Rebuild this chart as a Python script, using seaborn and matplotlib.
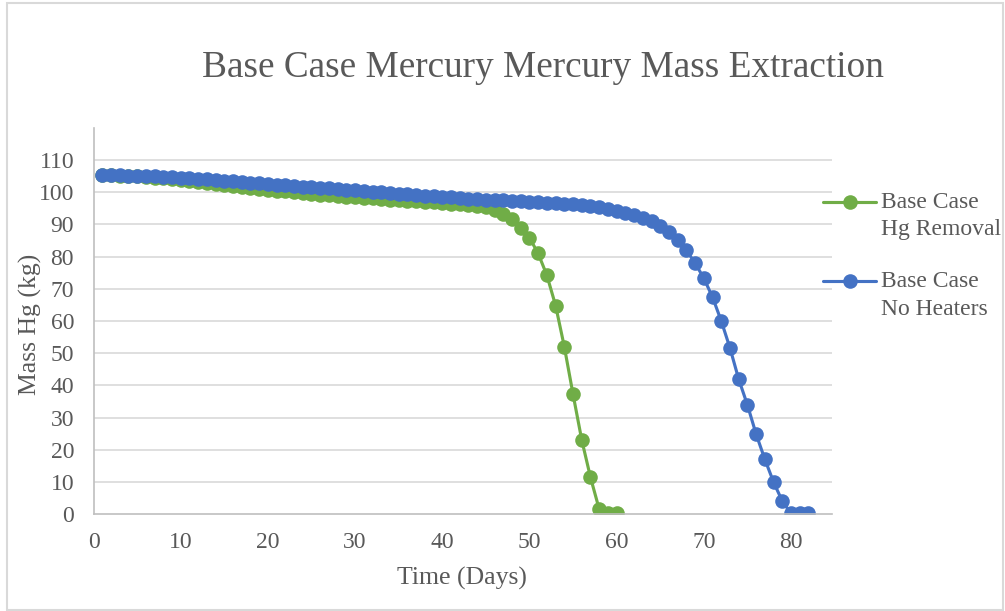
import matplotlib
matplotlib.use("Agg")
import matplotlib.pyplot as plt
from matplotlib.lines import Line2D
from matplotlib.patches import Rectangle
import pandas as pd
import seaborn as sns

# Mercury mass remaining (kg) by day
removal_days = list(range(1, 61))
removal_mass = [
    105.3, 105.3, 105.2, 105.1, 105.0, 104.8, 104.6, 104.4, 104.1, 103.8,
    103.5, 103.2, 102.9, 102.6, 102.3, 102.0, 101.7, 101.4, 101.1, 100.8,
    100.5, 100.3, 100.0, 99.8, 99.5, 99.3, 99.1, 98.9, 98.7, 98.5,
    98.3, 98.1, 97.9, 97.7, 97.5, 97.4, 97.2, 97.0, 96.9, 96.7,
    96.5, 96.3, 96.1, 95.8, 95.4, 94.6, 93.4, 91.6, 89.0, 85.9,
    81.0, 74.2, 64.8, 52.0, 37.2, 23.0, 11.4, 1.5, 0.2, 0.2,
]

noheat_days = list(range(1, 83))
noheat_mass = [
    105.3, 105.3, 105.3, 105.2, 105.2, 105.1, 105.0, 104.9, 104.8, 104.6,
    104.4, 104.2, 104.0, 103.8, 103.6, 103.4, 103.2, 103.0, 102.8, 102.6,
    102.4, 102.2, 102.0, 101.8, 101.6, 101.4, 101.2, 101.0, 100.8, 100.6,
    100.4, 100.2, 100.0, 99.8, 99.6, 99.4, 99.2, 99.0, 98.8, 98.6,
    98.4, 98.2, 98.0, 97.9, 97.7, 97.6, 97.5, 97.3, 97.2, 97.0,
    96.9, 96.8, 96.6, 96.5, 96.3, 96.1, 95.8, 95.4, 94.9, 94.3,
    93.6, 92.9, 92.0, 91.1, 89.5, 87.7, 85.3, 82.0, 78.0, 73.3,
    67.4, 60.0, 51.6, 41.9, 33.9, 24.8, 17.0, 9.9, 4.0, 0.2,
    0.2, 0.2,
]

series_labels = ["Base Case\nHg Removal", "Base Case\nNo Heaters"]
series_colors = ["#70AD47", "#4472C4"]
x_ticks = [0, 10, 20, 30, 40, 50, 60, 70, 80]
y_ticks = [0, 10, 20, 30, 40, 50, 60, 70, 80, 90, 100, 110]

sns.set_theme(style="white")
plt.rcParams["font.family"] = ["Liberation Serif", "DejaVu Serif"]
text_color = "#595959"

W, H = 1005, 611
fig = plt.figure(figsize=(W / 100, H / 100), dpi=100)

# chart frame
fig.add_artist(Rectangle((7 / W, 1 - 610 / H), (1003 - 7) / W, (610 - 3) / H,
                         transform=fig.transFigure, fill=False,
                         edgecolor="#D9D9D9", linewidth=1.5))

ax = fig.add_axes([93.5 / W, 1 - 514 / H, (832 - 93.5) / W, (514 - 128) / H])

df_rem = pd.DataFrame({"day": removal_days, "mass": removal_mass})
df_nh = pd.DataFrame({"day": noheat_days, "mass": noheat_mass})

for df, col in [(df_rem, series_colors[0]), (df_nh, series_colors[1])]:
    sns.lineplot(data=df, x="day", y="mass", ax=ax, color=col,
                 linewidth=2.25, marker="o", markersize=10.5,
                 markeredgewidth=0, markerfacecolor=col)

ax.set_xlim(0, 84.7)
ax.set_ylim(0, 120)
ax.set_xticks(x_ticks)
ax.set_yticks(y_ticks)
ax.tick_params(axis="both", length=0, labelsize=17, labelcolor=text_color)
ax.tick_params(axis="x", pad=13)
ax.tick_params(axis="y", pad=14)

for y in y_ticks[1:]:
    ax.axhline(y, color="#D9D9D9", linewidth=1.2, zorder=0)

for s in ["top", "right"]:
    ax.spines[s].set_visible(False)
for s in ["left", "bottom"]:
    ax.spines[s].set_color("#BFBFBF")
    ax.spines[s].set_linewidth(1.2)

ax.set_xlabel("")
ax.set_ylabel("")
ax.grid(False)
fig.text(462 / W, 1 - 578 / H, "Time (Days)", ha="center", va="center",
         fontsize=18.5, color=text_color)
fig.text(30 / W, 1 - 324 / H, "Mass Hg (kg)", rotation=90, ha="center",
         va="center", fontsize=18.5, color=text_color)

fig.text(543 / W, 1 - 68 / H, "Base Case Mercury Mercury Mass Extraction",
         ha="center", va="center", fontsize=26.8, color=text_color)

# legend entries
for i, (lab, col) in enumerate(zip(series_labels, series_colors)):
    yc = 1 - (202 + i * 79) / H
    fig.add_artist(Line2D([823 / W, 876 / W], [yc, yc], transform=fig.transFigure,
                          color=col, linewidth=2.25))
    fig.add_artist(Line2D([849.5 / W], [yc], transform=fig.transFigure,
                          color=col, marker="o", markersize=10.5, markeredgewidth=0))
    first, second = lab.split("\n")
    fig.text(881 / W, yc, first, ha="left", va="center", fontsize=17, color=text_color)
    fig.text(881 / W, yc - 28 / H, second, ha="left", va="center", fontsize=17,
             color=text_color)

fig.savefig("out.png", dpi=100)
